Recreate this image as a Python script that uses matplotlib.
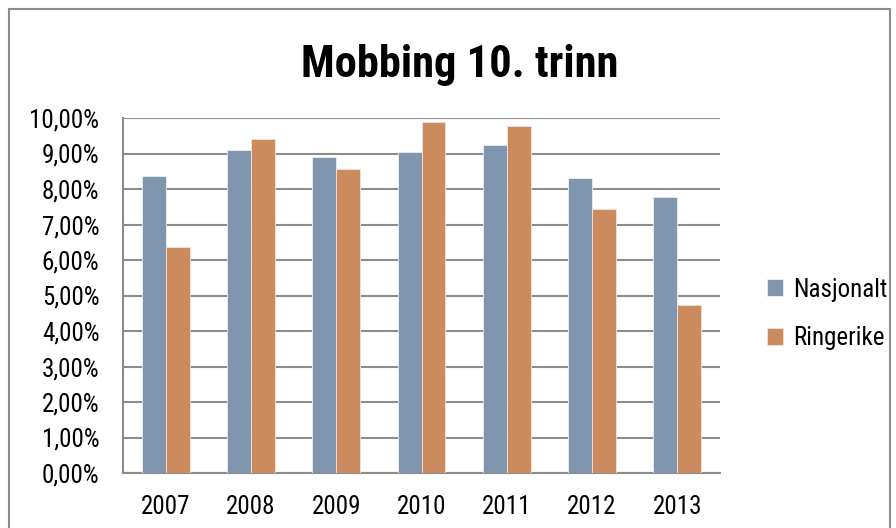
import matplotlib
matplotlib.use("Agg")
import matplotlib.pyplot as plt
import numpy as np
from matplotlib.patches import Rectangle

years = ["2007", "2008", "2009", "2010", "2011", "2012", "2013"]
nasjonalt = [8.37, 9.09, 8.90, 9.05, 9.23, 8.32, 7.78]
ringerike = [6.37, 9.40, 8.56, 9.89, 9.77, 7.43, 4.74]
series_names = ["Nasjonalt", "Ringerike"]
yticks = [0, 1, 2, 3, 4, 5, 6, 7, 8, 9, 10]

plt.rcParams['font.family'] = ['Roboto Condensed', 'Liberation Sans', 'DejaVu Sans']

fig = plt.figure(figsize=(8.96, 5.28), dpi=100)
fig.patches.append(Rectangle((9/896, -0.1), (890-9)/896, 1.1 - 9/528, transform=fig.transFigure,
                             fill=False, edgecolor='#8c8c8c', linewidth=1.5))
ax = fig.add_axes([123/896, 1-473/528, (720-123)/896, (473-118)/528])

x = np.arange(len(years))
w = 0.28
c1 = '#7F96AE'
c2 = '#CC8B5E'
ax.bar(x - w/2, nasjonalt, w, color=c1, edgecolor='#e8eef4', linewidth=0.6, zorder=3, label=series_names[0])
ax.bar(x + w/2, ringerike, w, color=c2, edgecolor='#f3e3d6', linewidth=0.6, zorder=3, label=series_names[1])

ax.set_xlim(-0.5, len(years) - 0.5)
ax.set_ylim(0, 10)
ax.set_yticks(yticks)
ax.set_yticklabels([f"{v:.2f}%".replace('.', ',') for v in yticks], fontsize=18)
ax.set_xticks(x)
ax.set_xticklabels(years, fontsize=18)
ax.tick_params(axis='y', length=0, pad=17)
ax.tick_params(axis='x', length=0, pad=16)
ax.grid(axis='y', color='#8c8c8c', linewidth=1.5, zorder=0)
for s in ['top', 'right']:
    ax.spines[s].set_visible(False)
ax.spines['left'].set_color('#8c8c8c')
ax.spines['left'].set_linewidth(1.5)
ax.spines['bottom'].set_color('#8c8c8c')
ax.spines['bottom'].set_linewidth(1.5)

fig.text(460/896, 1-77/528, "Mobbing 10. trinn", ha='center', va='baseline',
         fontsize=32, fontweight='bold')

leg = fig.legend(loc='center left', bbox_to_anchor=(744/896, 1-314/528), frameon=False,
                 fontsize=18, handlelength=0.65, handleheight=0.65, handletextpad=0.4,
                 labelspacing=1.0)

fig.savefig("out.png", dpi=100)
